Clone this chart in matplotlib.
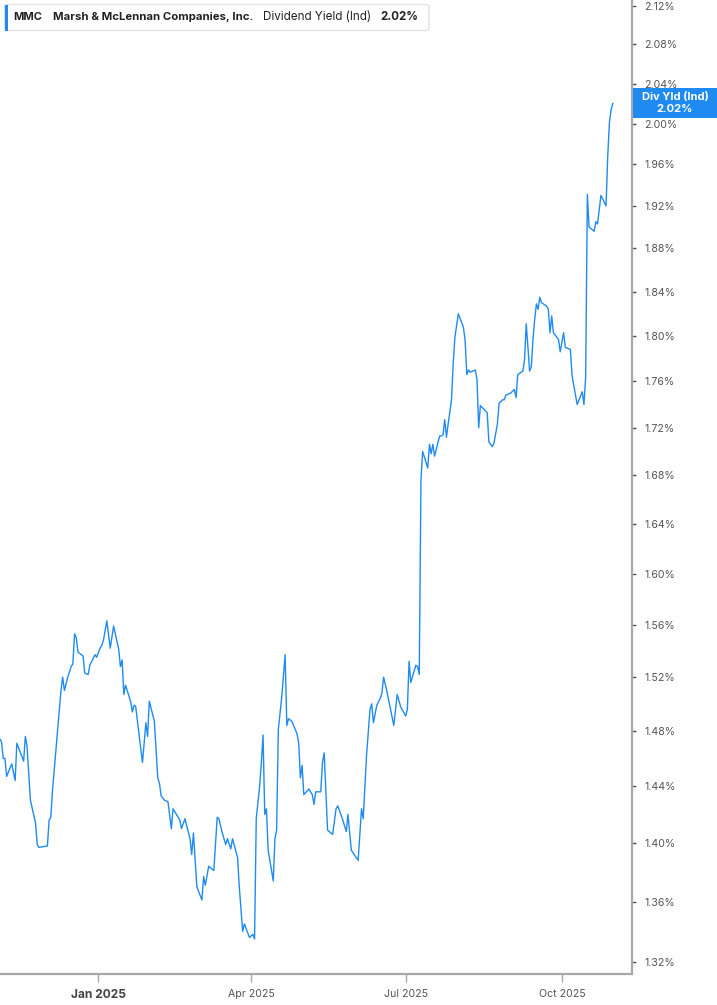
import matplotlib
matplotlib.use('Agg')
import matplotlib.pyplot as plt
import matplotlib.dates as mdates
from matplotlib.ticker import FixedLocator, FuncFormatter, NullLocator, NullFormatter
from matplotlib.patches import FancyBboxPatch, Rectangle
import pandas as pd

plt.rcParams['font.family'] = ['Inter', 'DejaVu Sans']

# ---------------- data ----------------
dates = [
    "2024-11-04", "2024-11-05", "2024-11-06", "2024-11-07", "2024-11-08", "2024-11-11",
    "2024-11-13", "2024-11-14", "2024-11-18", "2024-11-19", "2024-11-20", "2024-11-22",
    "2024-11-25", "2024-11-26", "2024-11-27", "2024-12-02", "2024-12-03", "2024-12-04",
    "2024-12-05", "2024-12-07", "2024-12-09", "2024-12-10", "2024-12-11", "2024-12-12",
    "2024-12-14", "2024-12-16", "2024-12-17", "2024-12-18", "2024-12-19", "2024-12-20",
    "2024-12-23", "2024-12-24", "2024-12-26", "2024-12-27", "2024-12-30", "2024-12-31",
    "2025-01-02", "2025-01-03", "2025-01-04", "2025-01-06", "2025-01-08", "2025-01-10",
    "2025-01-13", "2025-01-14", "2025-01-15", "2025-01-16", "2025-01-17", "2025-01-20",
    "2025-01-21", "2025-01-22", "2025-01-23", "2025-01-25", "2025-01-27", "2025-01-29",
    "2025-01-30", "2025-01-31", "2025-02-03", "2025-02-05", "2025-02-06", "2025-02-07",
    "2025-02-09", "2025-02-11", "2025-02-13", "2025-02-14", "2025-02-18", "2025-02-19",
    "2025-02-21", "2025-02-24", "2025-02-25", "2025-02-26", "2025-02-28", "2025-03-03",
    "2025-03-04", "2025-03-05", "2025-03-07", "2025-03-09", "2025-03-10", "2025-03-12",
    "2025-03-13", "2025-03-15", "2025-03-17", "2025-03-18", "2025-03-20", "2025-03-21",
    "2025-03-24", "2025-03-25", "2025-03-27", "2025-03-28", "2025-03-31", "2025-04-02",
    "2025-04-03", "2025-04-04", "2025-04-06", "2025-04-07", "2025-04-08", "2025-04-09",
    "2025-04-10", "2025-04-11", "2025-04-14", "2025-04-15", "2025-04-16", "2025-04-17",
    "2025-04-19", "2025-04-21", "2025-04-22", "2025-04-23", "2025-04-25", "2025-04-28",
    "2025-04-29", "2025-04-30", "2025-05-01", "2025-05-02", "2025-05-05", "2025-05-07",
    "2025-05-08", "2025-05-09", "2025-05-12", "2025-05-13", "2025-05-14", "2025-05-15",
    "2025-05-16", "2025-05-19", "2025-05-21", "2025-05-22", "2025-05-25", "2025-05-27",
    "2025-05-28", "2025-05-30", "2025-06-03", "2025-06-05", "2025-06-06", "2025-06-08",
    "2025-06-10", "2025-06-11", "2025-06-12", "2025-06-14", "2025-06-16", "2025-06-17",
    "2025-06-18", "2025-06-20", "2025-06-24", "2025-06-26", "2025-06-28", "2025-07-01",
    "2025-07-02", "2025-07-03", "2025-07-04", "2025-07-07", "2025-07-08", "2025-07-09",
    "2025-07-10", "2025-07-11", "2025-07-14", "2025-07-15", "2025-07-16", "2025-07-17",
    "2025-07-18", "2025-07-21", "2025-07-22", "2025-07-23", "2025-07-24", "2025-07-25",
    "2025-07-26", "2025-07-28", "2025-07-29", "2025-07-30", "2025-08-01", "2025-08-04",
    "2025-08-05", "2025-08-06", "2025-08-07", "2025-08-08", "2025-08-11", "2025-08-12",
    "2025-08-13", "2025-08-14", "2025-08-18", "2025-08-19", "2025-08-21", "2025-08-22",
    "2025-08-24", "2025-08-25", "2025-08-27", "2025-08-28", "2025-08-29", "2025-09-01",
    "2025-09-03", "2025-09-04", "2025-09-05", "2025-09-08", "2025-09-09", "2025-09-10",
    "2025-09-12", "2025-09-13", "2025-09-14", "2025-09-15", "2025-09-16", "2025-09-17",
    "2025-09-18", "2025-09-19", "2025-09-22", "2025-09-23", "2025-09-24", "2025-09-25",
    "2025-09-26", "2025-09-29", "2025-09-30", "2025-10-02", "2025-10-03", "2025-10-06",
    "2025-10-07", "2025-10-10", "2025-10-13", "2025-10-14", "2025-10-15", "2025-10-16",
    "2025-10-17", "2025-10-20", "2025-10-21", "2025-10-22", "2025-10-24", "2025-10-27",
    "2025-10-28", "2025-10-29", "2025-10-30", "2025-10-31",
]

yield_pct = [
    1.474, 1.472, 1.460, 1.460, 1.447, 1.456,
    1.444, 1.471, 1.458, 1.476, 1.469, 1.430,
    1.414, 1.399, 1.397, 1.398, 1.416, 1.418,
    1.437, 1.466, 1.496, 1.510, 1.520, 1.510,
    1.520, 1.528, 1.530, 1.553, 1.550, 1.539,
    1.536, 1.523, 1.522, 1.529, 1.537, 1.535,
    1.542, 1.544, 1.548, 1.563, 1.542, 1.559,
    1.541, 1.528, 1.533, 1.507, 1.514, 1.502,
    1.494, 1.499, 1.498, 1.477, 1.457, 1.486,
    1.476, 1.502, 1.487, 1.446, 1.442, 1.433,
    1.430, 1.429, 1.410, 1.424, 1.416, 1.410,
    1.417, 1.403, 1.392, 1.407, 1.370, 1.361,
    1.377, 1.371, 1.384, 1.382, 1.381, 1.418,
    1.417, 1.407, 1.399, 1.403, 1.396, 1.403,
    1.390, 1.370, 1.340, 1.345, 1.336, 1.338,
    1.335, 1.417, 1.440, 1.457, 1.477, 1.420,
    1.424, 1.395, 1.374, 1.403, 1.409, 1.481,
    1.505, 1.537, 1.484, 1.489, 1.487, 1.478,
    1.471, 1.446, 1.455, 1.434, 1.438, 1.434,
    1.427, 1.436, 1.436, 1.457, 1.464, 1.437,
    1.409, 1.406, 1.424, 1.426, 1.416, 1.408,
    1.420, 1.395, 1.388, 1.424, 1.417, 1.463,
    1.496, 1.500, 1.486, 1.499, 1.504, 1.508,
    1.520, 1.509, 1.484, 1.507, 1.498, 1.491,
    1.496, 1.532, 1.516, 1.529, 1.528, 1.522,
    1.676, 1.700, 1.686, 1.706, 1.698, 1.706,
    1.696, 1.713, 1.713, 1.714, 1.727, 1.712,
    1.723, 1.744, 1.776, 1.799, 1.820, 1.808,
    1.796, 1.766, 1.770, 1.768, 1.770, 1.762,
    1.720, 1.739, 1.733, 1.708, 1.704, 1.707,
    1.723, 1.741, 1.744, 1.744, 1.748, 1.750,
    1.753, 1.746, 1.766, 1.769, 1.779, 1.811,
    1.769, 1.773, 1.798, 1.815, 1.829, 1.824,
    1.835, 1.830, 1.827, 1.824, 1.803, 1.818,
    1.803, 1.797, 1.786, 1.803, 1.790, 1.788,
    1.765, 1.740, 1.751, 1.740, 1.764, 1.931,
    1.900, 1.896, 1.905, 1.903, 1.930, 1.920,
    1.968, 2.001, 2.014, 2.020,
]

ticker = "MMC"
company = "Marsh & McLennan Companies, Inc."
metric = "Dividend Yield (Ind)"
badge_label = "Div Yld (Ind)"

y_ticks = [1.32, 1.36, 1.40, 1.44, 1.48, 1.52, 1.56, 1.60, 1.64, 1.68, 1.72,
           1.76, 1.80, 1.84, 1.88, 1.92, 1.96, 2.00, 2.04, 2.08, 2.12]
x_ticks = ["2025-01-01", "2025-04-01", "2025-07-01", "2025-10-01"]
x_tick_labels = ["Jan 2025", "Apr 2025", "Jul 2025", "Oct 2025"]
x_range = ["2024-11-04 02:00", "2025-11-11 07:00"]
y_range = [1.312, 2.1263]

# ---------------- style ----------------
BLUE = '#1f8bf2'
W, H = 717, 1005
fig = plt.figure(figsize=(W / 100, H / 100), dpi=100)
fig.patch.set_facecolor('white')
ax = fig.add_axes([0, 31 / H, 632 / W, 974 / H])

ax.plot(pd.to_datetime(dates), yield_pct, color=BLUE, lw=1.0, solid_joinstyle='round')

ax.set_yscale('log')
ax.set_ylim(*y_range)
ax.set_xlim(pd.to_datetime(x_range[0]), pd.to_datetime(x_range[1]))

ax.yaxis.set_major_locator(FixedLocator(y_ticks))
ax.yaxis.set_minor_locator(NullLocator())
ax.yaxis.set_minor_formatter(NullFormatter())
ax.yaxis.set_major_formatter(FuncFormatter(lambda v, p: f"{v:.2f}%"))
ax.yaxis.tick_right()

ax.set_xticks(pd.to_datetime(x_ticks))
ax.set_xticklabels(x_tick_labels)
ax.xaxis.set_minor_locator(NullLocator())

for s in ['top', 'left']:
    ax.spines[s].set_visible(False)
for s in ['right', 'bottom']:
    ax.spines[s].set_color('#a8a8a8')
    ax.spines[s].set_linewidth(1.6)

ax.tick_params(axis='y', which='major', direction='out', length=3, width=1,
               pad=6, labelsize=7.6, labelcolor='#555555', color='#555555')
ax.tick_params(axis='x', which='major', direction='out', length=6, width=1,
               pad=5, labelsize=7.6, labelcolor='#555555', color='#a8a8a8')
lbl0 = ax.get_xticklabels()[0]
lbl0.set_fontweight('bold')
lbl0.set_fontsize(8.6)
lbl0.set_color('#444444')
ax.grid(False)

# ---------------- legend box ----------------
box = FancyBboxPatch((4.5, H - 30.5), 424.5, 26, boxstyle='round,pad=0,rounding_size=3',
                     transform=None, facecolor='white', edgecolor='#e2e2e2', lw=1.0)
fig.add_artist(box)
bar = Rectangle((4.5, H - 30.5), 3, 26, transform=None, facecolor=BLUE, edgecolor='none')
fig.add_artist(bar)

ty = 1 - 17.5 / H
fig.text(13 / W, ty, ticker, fontsize=8.0, fontweight='bold', color='#222222', va='center')
fig.text(53 / W, ty, company, fontsize=8.2, fontweight='bold', color='#222222', va='center')
fig.text(263 / W, ty, metric, fontsize=8.4, color='#222222', va='center')
fig.text(380 / W, ty, f"{yield_pct[-1]:.2f}%", fontsize=8.3, fontweight='bold',
         color='#222222', va='center')

# ---------------- last-value badge ----------------
fig.canvas.draw()
y_last = ax.transData.transform((ax.get_xlim()[0], yield_pct[-1]))[1]
badge = Rectangle((633, y_last - 15), 84, 30, transform=None, facecolor=BLUE,
                  edgecolor='none', zorder=5)
fig.add_artist(badge)
fig.text(675 / W, (y_last + 6) / H, badge_label, fontsize=8, fontweight='bold',
         color='white', ha='center', va='center', zorder=6)
fig.text(675 / W, (y_last - 5.5) / H, f"{yield_pct[-1]:.2f}%", fontsize=8,
         fontweight='bold', color='white', ha='center', va='center', zorder=6)

fig.savefig('out.png', dpi=100, facecolor='white')
